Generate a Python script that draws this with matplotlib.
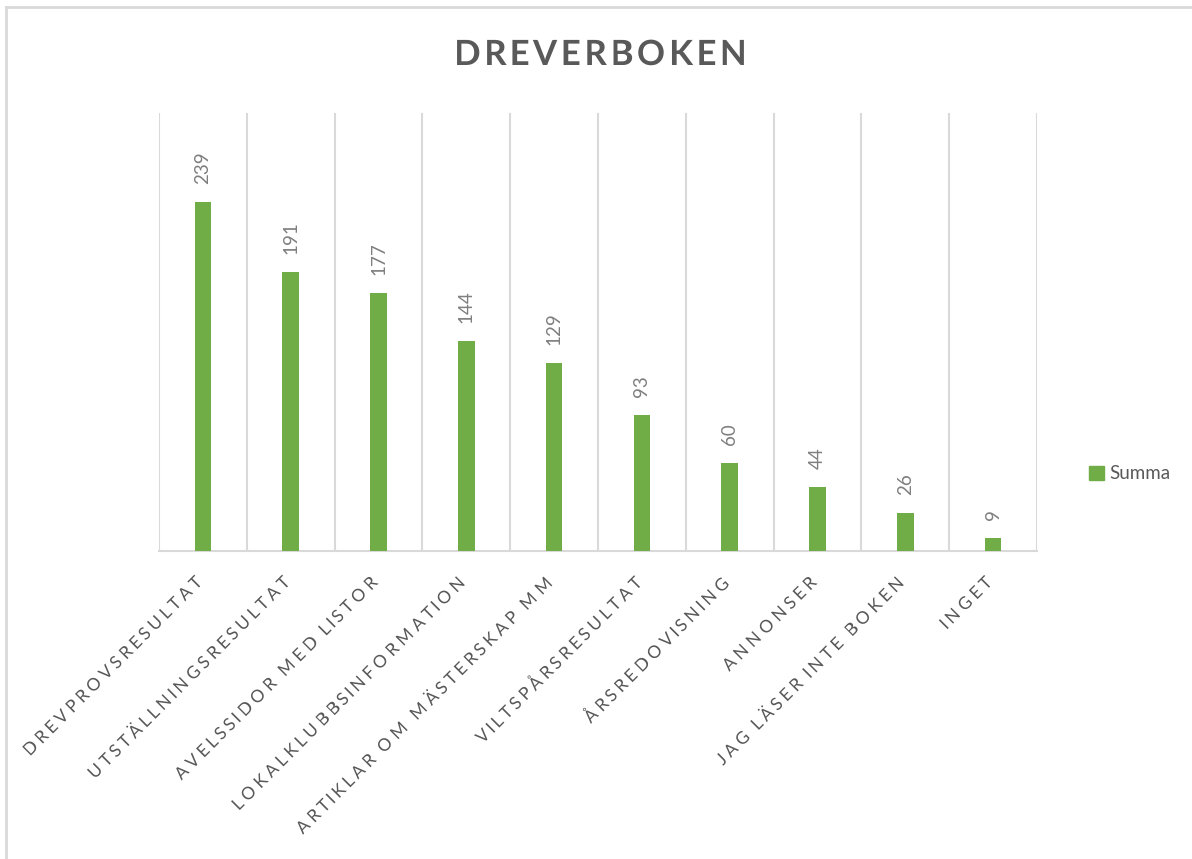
import matplotlib
matplotlib.use('Agg')
import matplotlib.pyplot as plt
import matplotlib.transforms as mtransforms
from matplotlib.lines import Line2D
from matplotlib.patheffects import AbstractPathEffect
from matplotlib.path import Path
import numpy as np

# Data
categories = [
    'DREVPROVSRESULTAT', 'UTSTÄLLNINGSRESULTAT', 'AVELSSIDOR MED LISTOR',
    'LOKALKLUBBSINFORMATION', 'ARTIKLAR OM MÄSTERSKAP MM', 'VILTSPÅRSRESULTAT',
    'ÅRSREDOVISNING', 'ANNONSER', 'JAG LÄSER INTE BOKEN', 'INGET',
]
values = [239, 191, 177, 144, 129, 93, 60, 44, 26, 9]
series_name = 'Summa'
title = 'DREVERBOKEN'

BAR_COLOR = '#70ad47'
GRID_COLOR = '#d9d9d9'
TEXT_DARK = '#595959'
TEXT_LIGHT = '#7f7f7f'


# Excel-like letter spacing: move each glyph contour along the baseline,
# keeping the glyph shapes as they are
class Tracking(AbstractPathEffect):
    def __init__(self, factor, anchor='left'):
        super().__init__()
        self.factor = factor
        self.anchor = anchor

    def draw_path(self, renderer, gc, tpath, affine, rgbFace=None):
        codes = tpath.codes
        verts = tpath.vertices.copy()
        if codes is None or len(verts) == 0:
            renderer.draw_path(gc, tpath, affine, rgbFace)
            return
        real = codes != Path.CLOSEPOLY
        x0, x1 = verts[real, 0].min(), verts[real, 0].max()
        if self.anchor == 'right':
            ref = x1
        elif self.anchor == 'center':
            ref = (x0 + x1) / 2
        else:
            ref = x0
        starts = np.where(codes == Path.MOVETO)[0]
        ends = list(starts[1:]) + [len(verts)]
        for s, e in zip(starts, ends):
            m = real[s:e]
            cx = verts[s:e, 0][m].mean()
            verts[s:e, 0] += (cx - ref) * self.factor
        renderer.draw_path(gc, Path(verts, codes), affine, rgbFace)


plt.rcParams['font.family'] = ['Lato', 'DejaVu Sans']

fig = plt.figure(figsize=(11.92, 8.59), dpi=100)
ax = fig.add_axes([159 / 1192, 1 - 551 / 859, (1037 - 159) / 1192, (551 - 113) / 859])

x = np.arange(len(categories))
bars = ax.bar(x, values, width=0.19, color=BAR_COLOR, label=series_name, zorder=3)

ax.set_xlim(-0.5, len(categories) - 0.5)
ax.set_ylim(0, 300)

# vertical gridlines between categories (Excel style)
ax.set_xticks(np.arange(-0.5, len(categories)), minor=True)
ax.grid(True, which='minor', axis='x', color=GRID_COLOR, linewidth=1.5, zorder=0)
ax.tick_params(axis='x', which='both', length=0)
ax.set_yticks([])

for s in ['top', 'right', 'left']:
    ax.spines[s].set_visible(False)
ax.spines['bottom'].set_color(GRID_COLOR)
ax.spines['bottom'].set_linewidth(1.5)

# category labels
ax.set_xticks(x)
ax.set_xticklabels(categories, rotation=45, ha='right', va='top',
                   rotation_mode='anchor', fontsize=12.5, color=TEXT_DARK)
ax.tick_params(axis='x', which='major', pad=16)
shift = mtransforms.ScaledTranslation(-8 / 100, 0, fig.dpi_scale_trans)
for lbl in ax.get_xticklabels():
    lbl.set_transform(lbl.get_transform() + shift)
    lbl.set_path_effects([Tracking(0.34, anchor='right')])

# data labels
for rect, v in zip(bars, values):
    ax.annotate(str(v), (rect.get_x() + rect.get_width() / 2, v),
                xytext=(0, 13), textcoords='offset points',
                rotation=90, ha='center', va='bottom',
                fontsize=13.5, color=TEXT_LIGHT)

t = fig.text(0.5035, 1 - 55 / 859, title, ha='center', va='center',
             fontsize=25, fontweight='bold', color=TEXT_DARK)
t.set_path_effects([Tracking(0.16, anchor='center')])

leg = fig.legend(handles=[plt.Rectangle((0, 0), 1, 1, color=BAR_COLOR)],
                 labels=[series_name], loc='center left',
                 bbox_to_anchor=(1072 / 1192, 1 - 474 / 859), frameon=False,
                 fontsize=13.5, handlelength=0.8, handleheight=0.8,
                 handletextpad=0.3)
for lt in leg.get_texts():
    lt.set_color(TEXT_DARK)

# chart border (only top and left are inside the picture)
fig.add_artist(Line2D([6 / 1192, 6 / 1192], [0, 1 - 7 / 859],
                      transform=fig.transFigure, color=GRID_COLOR, linewidth=2))
fig.add_artist(Line2D([6 / 1192, 1], [1 - 7 / 859, 1 - 7 / 859],
                      transform=fig.transFigure, color=GRID_COLOR, linewidth=2))

fig.savefig('out.png', dpi=100)
